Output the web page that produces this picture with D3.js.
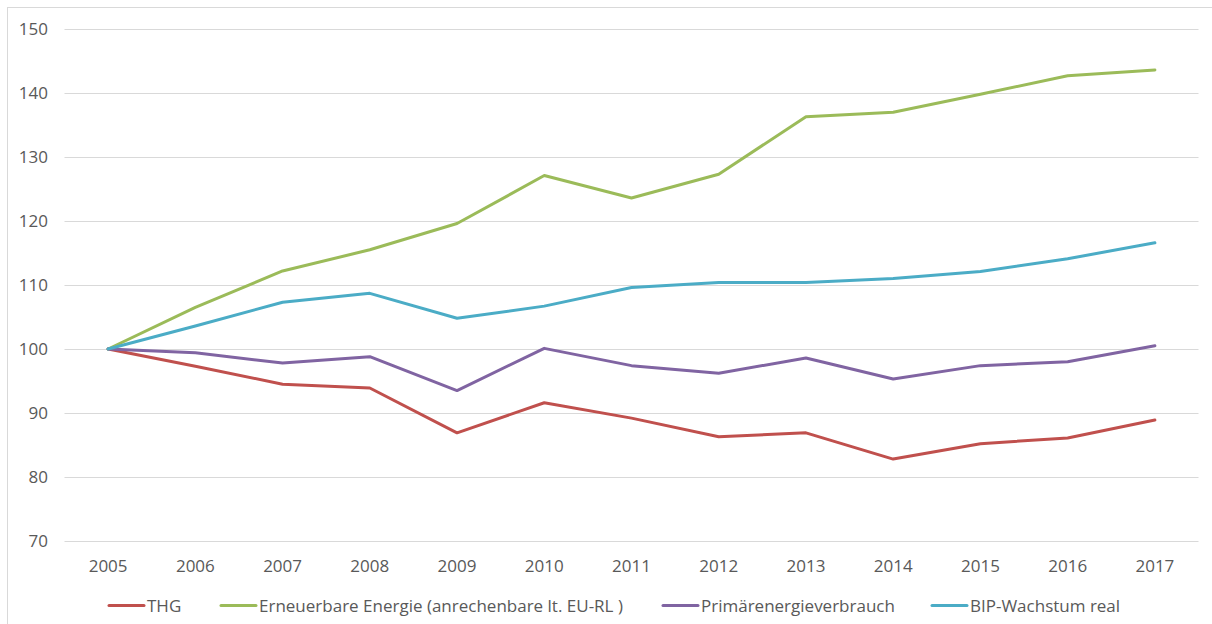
<!DOCTYPE html>
<html><head><meta charset="utf-8">
<script src="https://cdn.jsdelivr.net/npm/d3@7"></script>
<style>body{margin:0;background:#fff}svg{display:block}text{font-family:"Open Sans",sans-serif;fill:#595959}</style>
</head><body><svg id="c" width="1212" height="624"></svg>
<script>
const years = ["2005","2006","2007","2008","2009","2010","2011","2012","2013","2014","2015","2016","2017"];
const yTicks = [70,80,90,100,110,120,130,140,150];
const thg = [100,97.3,94.5,93.9,86.9,91.6,89.2,86.3,86.9,82.8,85.2,86.1,88.9];
const erneuerbare = [100,106.5,112.2,115.5,119.6,127.1,123.6,127.3,136.3,137.0,139.8,142.7,143.6];
const primaer = [100,99.4,97.8,98.8,93.5,100.1,97.4,96.2,98.6,95.3,97.4,98.0,100.5];
const bip = [100,103.6,107.3,108.7,104.8,106.7,109.6,110.4,110.4,111.0,112.1,114.1,116.6];
const seriesNames = ["THG","Erneuerbare Energie (anrechenbare lt. EU-RL )","Primärenergieverbrauch","BIP-Wachstum real"];
const seriesColors = ["#C0504D","#9BBB59","#8064A2","#4BACC6"];
const seriesData = [thg, erneuerbare, primaer, bip];

const svg = d3.select("#c");
svg.append("rect").attr("x",7.5).attr("y",7.5).attr("width",1220).attr("height",640)
  .attr("fill","none").attr("stroke","#d9d9d9");
const x = d3.scaleBand().domain(years).range([64.5,1198.5]);
const y = d3.scaleLinear().domain([70,150]).range([541,29]);

const grid = svg.append("g");
grid.selectAll("line").data(yTicks).join("line")
  .attr("x1",64.5).attr("x2",1198.5)
  .attr("y1",d=>Math.round(y(d))+0.5).attr("y2",d=>Math.round(y(d))+0.5)
  .attr("stroke","#d9d9d9").attr("stroke-width",1);

const yAxis = svg.append("g").attr("transform","translate(64.5,0)")
  .call(d3.axisLeft(y).tickValues(yTicks).tickSize(0).tickPadding(16.5));
yAxis.select(".domain").remove();
yAxis.selectAll("text").style("font-size","17px").attr("fill","#595959")
  .style("font-family","'Open Sans',sans-serif");

const xAxis = svg.append("g").attr("transform","translate(0,541)")
  .call(d3.axisBottom(x).tickSize(0).tickPadding(19));
xAxis.select(".domain").remove();
xAxis.selectAll("text").style("font-size","17px").attr("fill","#595959")
  .style("font-family","'Open Sans',sans-serif");

const line = d3.line().x((d,i)=>x(years[i])+x.bandwidth()/2).y(d=>y(d));
seriesData.forEach((s,k)=>{
  svg.append("path").datum(s).attr("d",line).attr("fill","none")
    .attr("stroke",seriesColors[k]).attr("stroke-width",3)
    .attr("stroke-linejoin","round").attr("stroke-linecap","round");
});

const legX = [109,221,663,932];
const leg = svg.append("g");
seriesNames.forEach((n,k)=>{
  leg.append("line").attr("x1",legX[k]).attr("x2",legX[k]+35).attr("y1",605.5).attr("y2",605.5)
    .attr("stroke",seriesColors[k]).attr("stroke-width",3).attr("stroke-linecap","round");
  leg.append("text").attr("x",legX[k]+38).attr("y",606).attr("dy","0.35em")
    .style("font-size","17px").text(n);
});
</script></body></html>
